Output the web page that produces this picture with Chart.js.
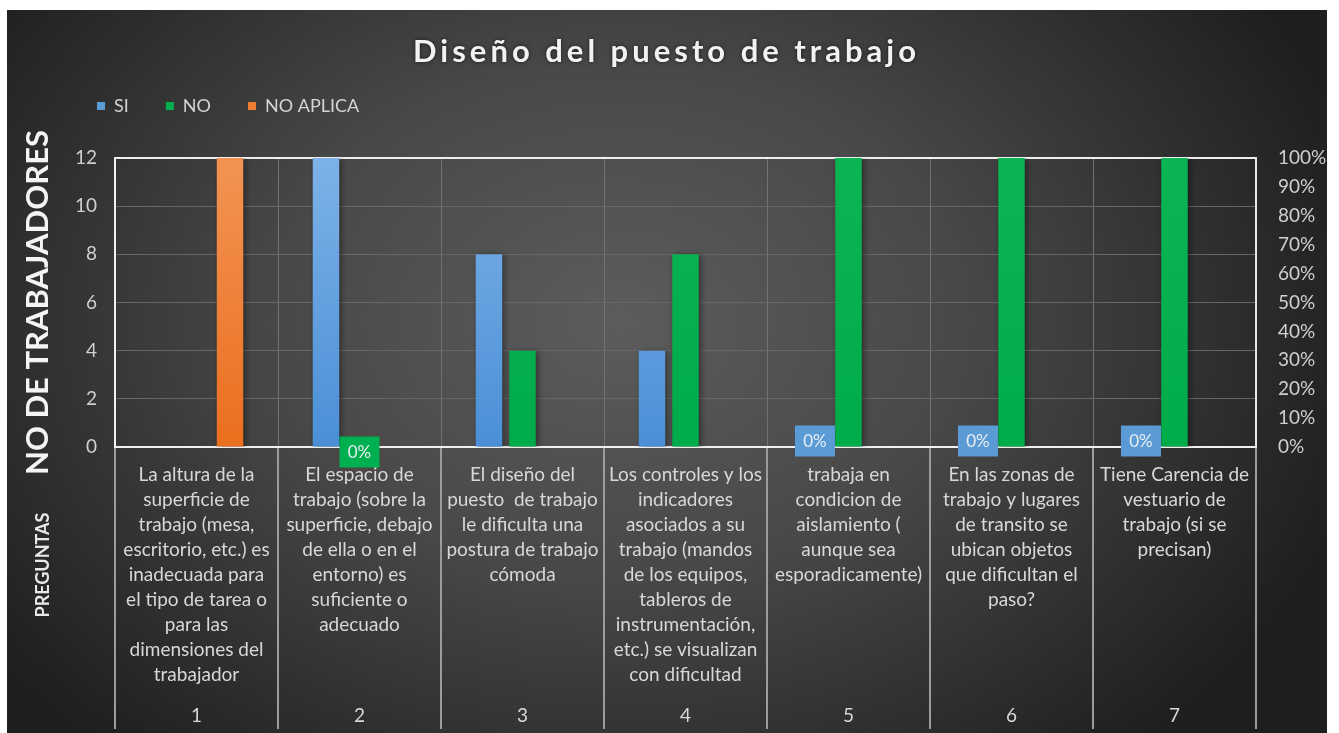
<!DOCTYPE html>
<html><head><meta charset="utf-8">
<script src="https://cdn.jsdelivr.net/npm/chart.js@4"></script>
<style>html,body{margin:0;padding:0;background:#fff;overflow:hidden}</style>
</head><body>
<canvas id="c" width="1339" height="733"></canvas>
<script>
// ---- data ----
const chartTitle = 'Diseño del puesto de trabajo';
const yTitle = 'NO DE TRABAJADORES';
const xTitle = 'PREGUNTAS';
const categories = [
  ['La altura de la','superficie de','trabajo (mesa,','escritorio, etc.) es','inadecuada para','el tipo de tarea o','para las','dimensiones del','trabajador'],
  ['El espacio de','trabajo (sobre la','superficie, debajo','de ella o en el','entorno) es','suficiente o','adecuado'],
  ['El diseño del','puesto  de trabajo','le dificulta una','postura de trabajo','cómoda'],
  ['Los controles y los','indicadores','asociados a su','trabajo (mandos','de los equipos,','tableros de','instrumentación,','etc.) se visualizan','con dificultad'],
  ['trabaja en','condicion de','aislamiento (','aunque sea','esporadicamente)'],
  ['En las zonas de','trabajo y lugares','de transito se','ubican objetos','que dificultan el','paso?'],
  ['Tiene Carencia de','vestuario de','trabajo (si se','precisan)']
];
const categoryNumbers = ['1','2','3','4','5','6','7'];
const seriesNames = ['SI','NO','NO APLICA'];
const siValues = [0, 12, 8, 4, 0, 0, 0];
const noValues = [0, 0, 4, 8, 12, 12, 12];
const noAplicaValues = [12, 0, 0, 0, 0, 0, 0];
const siLabels = [null, null, null, null, '0%', '0%', '0%'];
const noLabels = [null, '0%', null, null, null, null, null];
const leftMax = 12, leftStep = 2;
const rightMax = 1, rightStep = 0.1;

// ---- styles ----
const FONT = 'Lato';
const solid = ['#5b9bd5', '#00b050', '#ed7d31'];
function vGrad(top, bottom) {
  return (c) => {
    const a = c.chart.chartArea;
    if (!a) return bottom;
    const g = c.chart.ctx.createLinearGradient(0, a.top, 0, a.bottom);
    g.addColorStop(0, top); g.addColorStop(1, bottom);
    return g;
  };
}

const bgPlugin = {
  id: 'bg',
  beforeDraw(chart) {
    const ctx = chart.ctx;
    ctx.save();
    ctx.fillStyle = '#ffffff';
    ctx.fillRect(0, 0, chart.width, chart.height);
    ctx.beginPath();
    ctx.rect(7, 10, 1320, 723);
    ctx.clip();
    ctx.translate(620, 320);
    ctx.scale(1, 0.75);
    const g = ctx.createRadialGradient(0, 0, 0, 0, 0, 760);
    g.addColorStop(0, '#5c5c5c');
    g.addColorStop(0.45, '#484848');
    g.addColorStop(1, '#1f1f1f');
    ctx.fillStyle = g;
    ctx.fillRect(-800, -600, 1600, 1200);
    ctx.restore();
  }
};

const layoutFix = {
  id: 'layoutFix',
  afterInit(chart) {
    const tb = chart.titleBlock;
    if (tb && !tb._spaced) {
      const orig = tb.draw.bind(tb);
      tb.draw = function (area) {
        const ctx = chart.ctx;
        ctx.save();
        ctx.letterSpacing = '4px';
        ctx.shadowColor = 'rgba(0,0,0,0.6)';
        ctx.shadowBlur = 4;
        orig(area);
        ctx.restore();
      };
      tb._spaced = true;
    }
  },
  afterLayout(chart) {
    const lg = chart.legend;
    if (lg) {
      const w = lg.width;
      lg.left = 60; lg.right = 60 + w;
      lg.top = 60; lg.bottom = 60 + lg.height;
    }
  }
};

const shadowPlugin = {
  id: 'barShadow',
  beforeDatasetsDraw(chart) {
    const ctx = chart.ctx;
    ctx.save();
    ctx.shadowColor = 'rgba(0,0,0,0.45)';
    ctx.shadowBlur = 6;
    ctx.shadowOffsetX = 2;
    ctx.shadowOffsetY = 1;
  },
  afterDatasetsDraw(chart) { chart.ctx.restore(); }
};

const labelPlugin = {
  id: 'zeroLabels',
  afterDatasetsDraw(chart) {
    const ctx = chart.ctx;
    const cfg = [{bg: '#5b9bd5', dy: -6}, {bg: '#00b050', dy: 5}];
    chart.data.datasets.forEach((ds, di) => {
      if (!ds.valueLabels) return;
      const meta = chart.getDatasetMeta(di);
      meta.data.forEach((bar, i) => {
        const t = ds.valueLabels[i];
        if (!t) return;
        const c = cfg[di];
        const cx = bar.x, cy = bar.y + c.dy;
        ctx.save();
        ctx.fillStyle = c.bg;
        ctx.fillRect(cx - 20, cy - 15.5, 40, 31);
        ctx.font = '17px ' + FONT;
        ctx.fillStyle = '#e9eef2';
        ctx.textAlign = 'center';
        ctx.textBaseline = 'middle';
        ctx.fillText(t, cx, cy + 1);
        ctx.restore();
      });
    });
  }
};

const extrasPlugin = {
  id: 'extras',
  afterDraw(chart) {
    const ctx = chart.ctx;
    const xs = chart.scales.x;
    const a = chart.chartArea;
    ctx.save();
    ctx.strokeStyle = '#9c9c9c';
    ctx.lineWidth = 2;
    for (let i = 0; i <= categories.length; i++) {
      const x = Math.round(xs.getPixelForValue(i - 0.5));
      ctx.beginPath();
      ctx.moveTo(x, a.bottom + 1);
      ctx.lineTo(x, 729);
      ctx.stroke();
    }
    ctx.translate(43, 565);
    ctx.rotate(-Math.PI / 2);
    ctx.font = 'bold 18px ' + FONT;
    ctx.fillStyle = '#e8e8e8';
    ctx.textAlign = 'center';
    ctx.textBaseline = 'middle';
    ctx.fillText(xTitle, 0, 0);
    ctx.restore();
  }
};

Chart.defaults.font.family = FONT;

new Chart(document.getElementById('c'), {
  type: 'bar',
  data: {
    labels: categories,
    datasets: [
      {label: seriesNames[0], data: siValues, valueLabels: siLabels, xAxisID: 'x', yAxisID: 'y',
       backgroundColor: vGrad('#7db2e8', '#4a8fd6')},
      {label: seriesNames[1], data: noValues, valueLabels: noLabels, xAxisID: 'x', yAxisID: 'y',
       backgroundColor: vGrad('#0cb553', '#00ab4a')},
      {label: seriesNames[2], data: noAplicaValues, xAxisID: 'x', yAxisID: 'y',
       backgroundColor: vGrad('#f39353', '#ea6f1e')}
    ]
  },
  options: {
    responsive: false,
    animation: false,
    devicePixelRatio: 1,
    categoryPercentage: 0.617,
    barPercentage: 0.79,
    layout: {padding: {top: 10, left: 7, right: 13, bottom: 0}},
    plugins: {
      tooltip: {enabled: false},
      title: {
        display: true, text: chartTitle, color: '#f2f2f2',
        font: {size: 31, weight: 'bold', lineHeight: 1},
        padding: {top: 26, bottom: 26}
      },
      legend: {
        display: true, position: 'top', align: 'start',
        labels: {
          color: '#d4d4d4', font: {size: 18}, boxWidth: 8, boxHeight: 8, padding: 37,
          generateLabels: (chart) => Chart.defaults.plugins.legend.labels.generateLabels(chart)
            .map((l, i) => Object.assign(l, {fillStyle: solid[i], strokeStyle: solid[i], lineWidth: 0}))
        }
      }
    },
    scales: {
      x: {
        type: 'category', position: 'bottom', weight: 0,
        grid: {display: true, color: '#727272', lineWidth: 1, drawTicks: false, offset: true},
        border: {display: true, color: '#f0f0f0', width: 2},
        ticks: {color: '#d8d8d8', font: {size: 19, lineHeight: '25px'}, padding: 15,
                autoSkip: false, maxRotation: 0, minRotation: 0},
        afterFit: (s) => { s.height = 240; }
      },
      x2: {
        type: 'category', position: 'bottom', weight: 1, labels: categoryNumbers, offset: true,
        grid: {display: false, drawTicks: false}, border: {display: false},
        ticks: {color: '#d8d8d8', font: {size: 19, lineHeight: '25px'}, padding: 16},
        afterFit: (s) => { s.height = 46; }
      },
      y: {
        type: 'linear', position: 'left', min: 0, max: leftMax,
        grid: {color: (c) => (c.tick && c.tick.value === leftMax) ? '#eeeeee' : '#676767',
               lineWidth: (c) => (c.tick && c.tick.value === leftMax) ? 2 : 1, drawTicks: false},
        border: {display: true, color: '#f0f0f0', width: 2},
        ticks: {stepSize: leftStep, color: '#cfcfcf', font: {size: 19}, padding: 18},
        title: {display: true, text: yTitle, color: '#f4f4f4', font: {size: 31, weight: 'bold', lineHeight: 1.2},
                padding: {top: 12, bottom: 0}},
        afterFit: (s) => { s.width = 108; }
      },
      y2: {
        type: 'linear', position: 'right', min: 0, max: rightMax,
        grid: {display: false, drawTicks: false},
        border: {display: true, color: '#e6e6e6', width: 2},
        ticks: {stepSize: rightStep, color: '#cfcfcf', font: {size: 19}, padding: 22,
                callback: (v) => Math.round(v * 100) + '%'},
        afterFit: (s) => { s.width = 70; }
      }
    }
  },
  plugins: [bgPlugin, layoutFix, shadowPlugin, labelPlugin, extrasPlugin]
});
</script>
</body></html>
